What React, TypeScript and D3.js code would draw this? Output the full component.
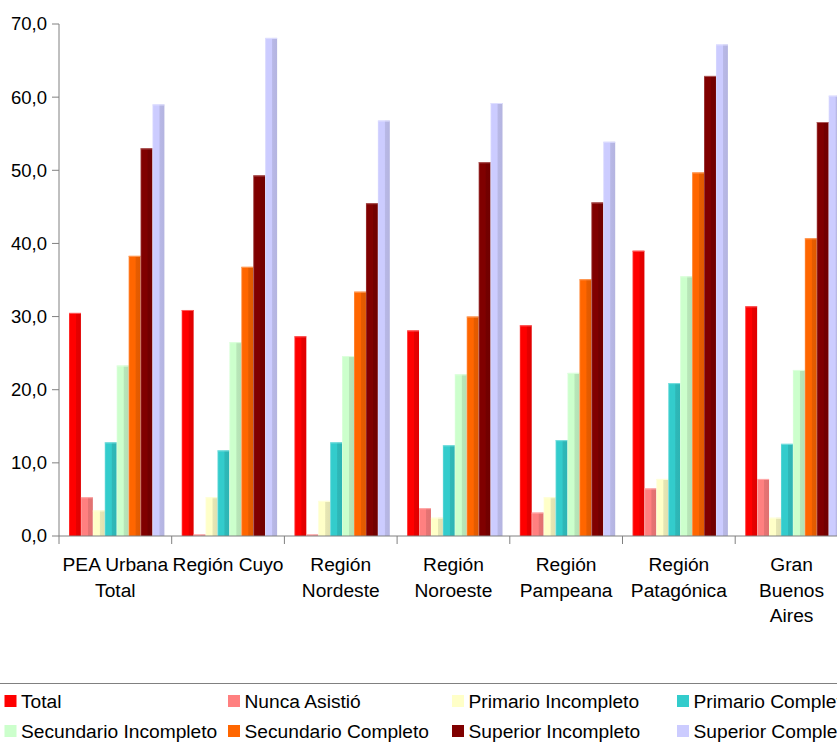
import React from "react";
import * as d3 from "d3";

const categoryLines: string[][] = [
  ["PEA Urbana", "Total"],
  ["Región Cuyo"],
  ["Región", "Nordeste"],
  ["Región", "Noroeste"],
  ["Región", "Pampeana"],
  ["Región", "Patagónica"],
  ["Gran", "Buenos", "Aires"],
];
const categories = categoryLines.map((l) => l.join(" "));

const seriesNames = [
  "Total",
  "Nunca Asistió",
  "Primario Incompleto",
  "Primario Completo",
  "Secundario Incompleto",
  "Secundario Completo",
  "Superior Incompleto",
  "Superior Completo",
];
const seriesColors = ["#FF0000", "#FF8080", "#FFFFC8", "#33CCCC", "#CCFFCC", "#FF6600", "#800000", "#CCCCFF"];

const total = [30.5, 30.9, 27.3, 28.1, 28.8, 39.0, 31.4];
const nuncaAsistio = [5.3, 0.2, 0.2, 3.8, 3.2, 6.5, 7.8];
const primarioIncompleto = [3.5, 5.3, 4.8, 2.5, 5.3, 7.8, 2.5];
const primarioCompleto = [12.8, 11.7, 12.8, 12.4, 13.1, 20.9, 12.6];
const secundarioIncompleto = [23.3, 26.5, 24.6, 22.1, 22.3, 35.5, 22.7];
const secundarioCompleto = [38.3, 36.8, 33.4, 30.0, 35.1, 49.7, 40.7];
const superiorIncompleto = [53.0, 49.3, 45.5, 51.1, 45.6, 62.9, 56.6];
const superiorCompleto = [59.0, 68.1, 56.8, 59.2, 53.9, 67.2, 60.2];

const seriesValues = [
  total,
  nuncaAsistio,
  primarioIncompleto,
  primarioCompleto,
  secundarioIncompleto,
  secundarioCompleto,
  superiorIncompleto,
  superiorCompleto,
];

const yTicks = [0, 10, 20, 30, 40, 50, 60, 70];

const W = 837;
const H = 742;
const FONT = "'Liberation Sans', Arial, sans-serif";
const FS_TICK = 18.5;
const FS = 19.2;

export default function App() {
  const axisX = 59;
  const groupW = 112.7;
  const x0 = d3
    .scaleBand<string>()
    .domain(categories)
    .range([axisX, axisX + groupW * categories.length])
    .padding(0);
  const x1 = d3
    .scaleBand<string>()
    .domain(seriesNames)
    .range([10, 105.4])
    .padding(0);
  const y = d3.scaleLinear().domain([0, 70]).range([536, 24]);
  const fmt = (v: number) => d3.format(".1f")(v).replace(".", ",");

  const lighten = (c: string, k: number) => d3.interpolateRgb(c, "#ffffff")(k);
  const darken = (c: string, k: number) => {
    const r = d3.rgb(c);
    return d3.rgb(r.r * k, r.g * k, r.b * k).formatHex();
  };

  const legendCols = [4.5, 228, 452, 677];
  const legendRows = [701, 731];

  return (
    <svg
      width={W}
      height={H}
      style={{ position: "absolute", left: 0, top: 0, display: "block", background: "#fff" }}
      fontFamily={FONT}
    >
      <defs>
        {seriesColors.map((c, i) => (
          <linearGradient key={i} id={`g${i}`} x1="0" x2="1" y1="0" y2="0">
            <stop offset="0" stopColor={lighten(c, 0.25)} />
            <stop offset="0.12" stopColor={c} />
            <stop offset="0.55" stopColor={c} />
            <stop offset="0.62" stopColor={darken(c, 0.9)} />
            <stop offset="1" stopColor={darken(c, 0.88)} />
          </linearGradient>
        ))}
      </defs>

      {/* bars */}
      {categories.map((cat, ci) => (
        <g key={cat} transform={`translate(${x0(cat)},0)`}>
          {seriesNames.map((s, si) => {
            const v = seriesValues[si][ci];
            const top = y(v);
            return (
              <g key={s}>
                <rect
                  x={x1(s)}
                  y={top}
                  width={x1.bandwidth()}
                  height={y(0) - top}
                  fill={`url(#g${si})`}
                />
                <rect
                  x={x1(s)}
                  y={top}
                  width={x1.bandwidth()}
                  height={Math.min(1, y(0) - top)}
                  fill={lighten(seriesColors[si], 0.35)}
                />
              </g>
            );
          })}
        </g>
      ))}

      {/* y axis */}
      <line x1={axisX} x2={axisX} y1={y(70)} y2={544} stroke="#808080" strokeWidth={1} />
      {yTicks.map((t) => (
        <g key={t}>
          <line x1={52} x2={axisX} y1={y(t)} y2={y(t)} stroke="#808080" />
          <text x={47} y={y(t)} dy="0.35em" textAnchor="end" fontSize={FS_TICK} fill="#000">
            {fmt(t)}
          </text>
        </g>
      ))}

      {/* x axis */}
      <line x1={axisX} x2={W} y1={y(0)} y2={y(0)} stroke="#808080" />
      {categories.map((cat) => (
        <line
          key={cat}
          x1={(x0(cat) as number) + x0.bandwidth()}
          x2={(x0(cat) as number) + x0.bandwidth()}
          y1={y(0)}
          y2={544}
          stroke="#808080"
        />
      ))}
      {categories.map((cat, ci) => (
        <text
          key={cat}
          x={(x0(cat) as number) + x0.bandwidth() / 2}
          y={571}
          textAnchor="middle"
          fontSize={FS}
          fill="#000"
        >
          {categoryLines[ci].map((ln, li) => (
            <tspan key={li} x={(x0(cat) as number) + x0.bandwidth() / 2} dy={li === 0 ? 0 : 25.5}>
              {ln}
            </tspan>
          ))}
        </text>
      ))}

      {/* legend */}
      <line x1={0} x2={W} y1={683.5} y2={683.5} stroke="#808080" strokeWidth={1} />
      {seriesNames.map((s, i) => {
        const col = i % 4;
        const row = Math.floor(i / 4);
        const lx = legendCols[col];
        const ly = legendRows[row];
        return (
          <g key={s}>
            <rect x={lx} y={ly - 6} width={12} height={12} fill={seriesColors[i]} />
            <text x={lx + 16.5} y={ly} dy="0.36em" fontSize={FS} fill="#000">
              {s}
            </text>
          </g>
        );
      })}
    </svg>
  );
}
